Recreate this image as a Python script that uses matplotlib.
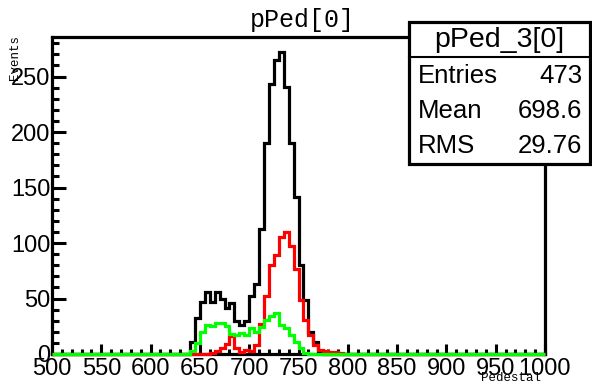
import numpy as np
import matplotlib.pyplot as plt
from matplotlib.patches import Rectangle
from matplotlib.lines import Line2D
from matplotlib.ticker import MultipleLocator

# histogram binning (5 units per bin, 500..1000)
x_lo, x_hi, bin_w = 500, 1000, 5

# black histogram, counts from 640 upward
black_start = 640
black_counts = [11, 32, 47, 56, 47, 56, 50, 41, 46, 30, 26, 30, 52, 63,
                113, 190, 243, 265, 272, 241, 190, 141, 80, 49, 20, 11, 2]

# red histogram, counts from 660 upward
red_start = 660
red_counts = [1, 3, 5, 9, 16, 5, 2, 4, 3, 8, 27, 52, 80, 89, 105, 110,
              97, 77, 49, 31, 17, 8, 4, 3, 2, 2, 1]

# green histogram (pPed_3[0]), counts from 640 upward
green_start = 640
green_counts = [3, 10, 20, 26, 25, 28, 28, 25, 18, 17, 19, 17, 23, 20, 24,
                31, 34, 37, 26, 23, 17, 11, 5, 1]

stats_title = "pPed_3[0]"
stats_rows = [("Entries", "473"), ("Mean", "698.6"), ("RMS", "29.76")]

edges = np.arange(x_lo, x_hi + bin_w, bin_w)


def full_hist(start, counts):
    h = np.zeros(len(edges) - 1)
    i = (start - x_lo) // bin_w
    h[i:i + len(counts)] = counts
    return h


W, H = 592, 384
fig = plt.figure(figsize=(W / 100, H / 100), dpi=100)
L, R, T, B = 52, 545, 37, 354
ax = fig.add_axes([L / W, 1 - B / H, (R - L) / W, (B - T) / H])

for start, counts, col in [(black_start, black_counts, "black"),
                           (red_start, red_counts, "#ff0000"),
                           (green_start, green_counts, "#00ff00")]:
    ax.stairs(full_hist(start, counts), edges, color=col, lw=2.3,
              zorder=3, clip_on=False)

ax.set_xlim(x_lo, x_hi)
ax.set_ylim(0, max(black_counts) * 1.05)

for s in ["left", "right", "top", "bottom"]:
    ax.spines[s].set_linewidth(2.3)

ax.xaxis.set_major_locator(MultipleLocator(50))
ax.xaxis.set_minor_locator(MultipleLocator(10))
ax.yaxis.set_major_locator(MultipleLocator(50))
ax.yaxis.set_minor_locator(MultipleLocator(10))
ax.tick_params(axis="x", which="major", direction="in", length=7, width=2.2,
               labelsize=17, pad=3)
ax.tick_params(axis="x", which="minor", direction="in", length=3.4, width=2.2)
ax.tick_params(axis="y", which="major", direction="in", length=10, width=2.2,
               labelsize=17, pad=1)
ax.tick_params(axis="y", which="minor", direction="in", length=5, width=2.2)
for lab in ax.get_xticklabels() + ax.get_yticklabels():
    lab.set_family("Liberation Sans")

# axis titles (ROOT style, small courier)
fig.text(15 / W, 1 - 35 / H, "Events", rotation=90, ha="center", va="top",
         family="Liberation Mono", fontsize=9)
fig.text(541 / W, 1 - 378 / H, "Pedestal", ha="right", va="center",
         family="Liberation Mono", fontsize=9)

# title
fig.text(302 / W, 1 - 20 / H, "pPed[0]", ha="center", va="center",
         family="Liberation Mono", fontsize=18)

# stats box
bx0, bx1, by0, by1, bsep = 409, 590, 22, 164, 57
fig.add_artist(Rectangle((bx0 / W, 1 - by1 / H), (bx1 - bx0) / W,
                         (by1 - by0) / H, transform=fig.transFigure,
                         facecolor="white", edgecolor="black", lw=2.3,
                         zorder=10))
fig.add_artist(Line2D([bx0 / W, bx1 / W], [1 - bsep / H, 1 - bsep / H],
                      transform=fig.transFigure, color="black", lw=1.5,
                      zorder=11))
fig.text((bx0 + bx1) / 2 / W, 1 - 40 / H, stats_title, ha="center",
         va="center", family="Liberation Sans", fontsize=20.5, zorder=12)
for k, (name, val) in enumerate(stats_rows):
    yy = 1 - (76 + 35 * k) / H
    fig.text(418 / W, yy, name, ha="left", va="center",
             family="Liberation Sans", fontsize=18.5, zorder=12)
    fig.text(582 / W, yy, val, ha="right", va="center",
             family="Liberation Sans", fontsize=18.5, zorder=12)

fig.savefig("out.png", dpi=100)
